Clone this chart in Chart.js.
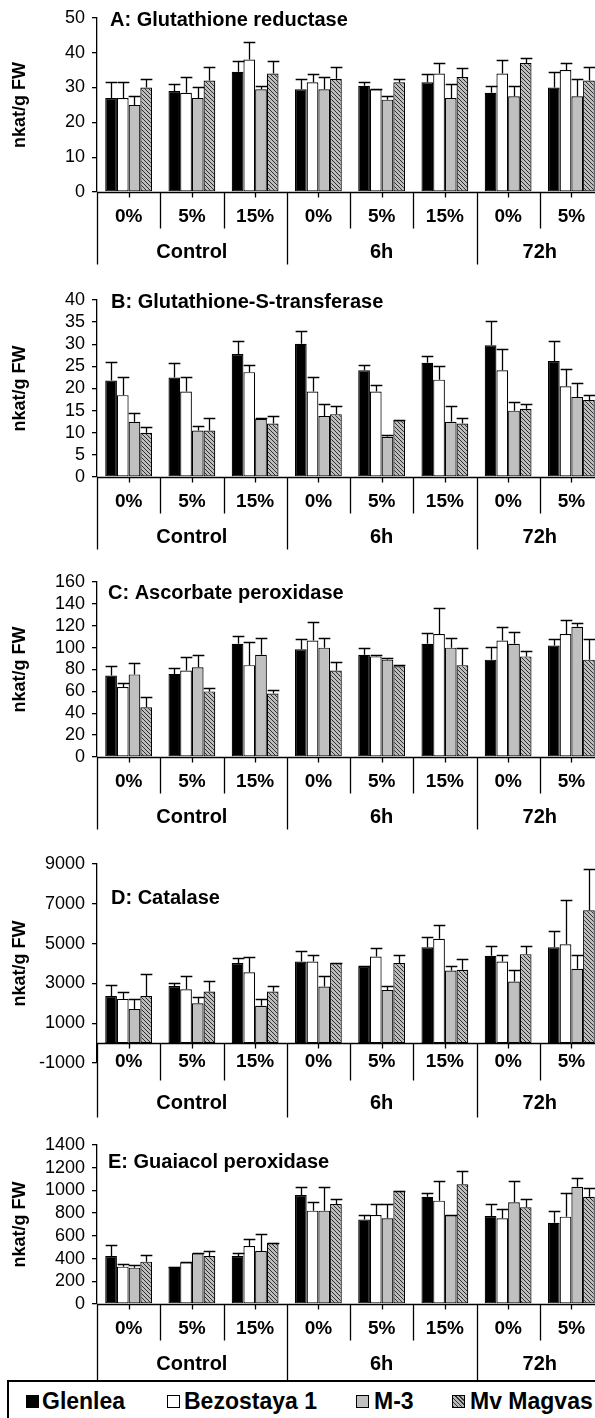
<!DOCTYPE html>
<html lang="en">
<head>
<meta charset="UTF-8">
<title>Antioxidant enzyme activities</title>
<script src="https://cdn.jsdelivr.net/npm/chart.js@4.4.1/dist/chart.umd.min.js"></script>
<style>
  html, body { margin: 0; padding: 0; background: #fff; }
  body { width: 595px; height: 1418px; overflow: hidden; position: relative;
         font-family: Arial, "Liberation Sans", sans-serif; }
  .panel { position: absolute; left: 0; width: 604px; }
  #legendBox { position: absolute; left: 7px; top: 1380px; width: 640px; height: 80px;
               border: 2px solid #000; box-sizing: border-box; }
  .item { position: absolute; top: 1388px; font: bold 23px Arial, "Liberation Sans", sans-serif;
          line-height: 26px; white-space: nowrap; color: #000; }
  .sw { position: absolute; top: 7px; width: 11px; height: 11px; border: 1px solid #000; }
</style>
</head>
<body>
<div class="panel" style="top:0;height:280px"><canvas id="chartA"></canvas></div>
<div class="panel" style="top:280px;height:280px"><canvas id="chartB"></canvas></div>
<div class="panel" style="top:560px;height:280px"><canvas id="chartC"></canvas></div>
<div class="panel" style="top:840px;height:280px"><canvas id="chartD"></canvas></div>
<div class="panel" style="top:1120px;height:260px"><canvas id="chartE"></canvas></div>

<div id="legendBox"></div>
<div class="item" style="left:42px"><span class="sw" style="left:-16px;background:#000"></span>Glenlea</div>
<div class="item" style="left:184px"><span class="sw" style="left:-17px;background:#fff"></span>Bezostaya 1</div>
<div class="item" style="left:374px"><span class="sw" style="left:-18px;background:#c0c0c0"></span>M-3</div>
<div class="item" style="left:470px"><span class="sw" style="left:-18px;background:repeating-linear-gradient(45deg,#333 0 1px,#b8b8b8 1px 3px)"></span>Mv Magvas</div>

<script>
// categories
const subLabels = ['0%', '5%', '15%', '0%', '5%', '15%', '0%', '5%'];
const groupLabels = ['Control', '6h', '72h'];
const groupSizes = [3, 3, 2];
const seriesNames = ['Glenlea', 'Bezostaya 1', 'M-3', 'Mv Magvas'];

// A: Glutathione reductase (rows = Glenlea, Bezostaya 1, M-3, Mv Magvas)
const grMeans = [
  [27, 29, 34.5, 29.5, 30.5, 31.5, 28.5, 30],
  [27, 28.5, 38, 31.5, 29.5, 34, 34, 35],
  [25, 27, 29.5, 29.5, 26.5, 27, 27.5, 27.5],
  [30, 32, 34, 32.5, 31.5, 33, 37, 32]
];
const grErrors = [
  [4.5, 2, 3, 3, 1, 2.5, 2, 4.5],
  [4.5, 4.5, 5, 2.5, 0, 3, 4, 2],
  [2.5, 3, 1, 3.5, 1, 4, 3, 5],
  [2.5, 4, 3.5, 3.5, 1, 2.5, 1.5, 4]
];

// B: Glutathione-S-transferase
const gstMeans = [
  [21.8, 22.5, 27.8, 30.1, 24.1, 25.8, 29.8, 26.2],
  [18.5, 19.3, 23.7, 19.3, 19.3, 22.0, 24.1, 20.5],
  [12.5, 10.5, 13.1, 13.8, 9.1, 12.5, 15.0, 18.1],
  [10.0, 10.5, 12.1, 14.2, 12.8, 12.1, 15.4, 17.4]
];
const gstErrors = [
  [4.2, 3.2, 3.0, 2.8, 1.2, 1.5, 5.5, 4.6],
  [4.0, 3.2, 1.6, 3.2, 1.6, 3.0, 4.8, 4.0],
  [2.0, 1.1, 0.2, 2.7, 0.3, 3.6, 1.9, 3.1],
  [1.3, 2.8, 1.6, 1.9, 0.1, 1.2, 1.1, 1.1]
];

// C: Ascorbate peroxidase
const apxMeans = [
  [74.5, 76, 103.5, 98.5, 93.5, 103.5, 89, 102],
  [64, 79, 84, 106.5, 92, 112.5, 106.5, 112.5],
  [75.5, 82, 93.5, 100, 89, 100, 103.5, 119],
  [45.5, 60, 58, 79, 83, 84, 92, 89]
];
const apxErrors = [
  [8.5, 5.5, 7.5, 9, 6, 10, 12, 5.5],
  [3.5, 12.5, 21, 17, 1, 24, 12.5, 13],
  [10, 11.5, 15.5, 9, 1.5, 9, 11, 3.5],
  [9.5, 3, 3.5, 8, 1, 15.5, 5, 18.5]
];

// D: Catalase
const catMeans = [
  [2370, 2870, 4020, 4100, 3850, 4820, 4390, 4820],
  [2220, 2700, 3560, 4100, 4350, 5240, 4100, 4970],
  [1710, 2000, 1880, 2840, 2670, 3650, 3090, 3730],
  [2370, 2590, 2590, 4020, 4020, 3680, 4470, 6670]
];
const catErrors = [
  [550, 170, 250, 540, 0, 500, 500, 790],
  [370, 670, 790, 340, 450, 700, 340, 2200],
  [500, 340, 340, 540, 200, 200, 560, 700],
  [1090, 540, 290, 0, 420, 540, 420, 2100]
];

// E: Guaiacol peroxidase
const poxMeans = [
  [423, 329, 423, 960, 745, 945, 775, 716],
  [329, 367, 511, 822, 784, 910, 754, 769],
  [320, 446, 467, 822, 754, 784, 895, 1033],
  [373, 423, 540, 880, 998, 1054, 851, 945]
];
const poxErrors = [
  [100, 0, 30, 73, 40, 30, 105, 106],
  [23, 0, 60, 80, 96, 173, 80, 205],
  [23, 0, 146, 211, 126, 0, 188, 80],
  [58, 44, 0, 45, 0, 117, 74, 73]
];

const FONT = 'Arial, "Liberation Sans", sans-serif';

// hatched fill for Mv Magvas
function hatch() {
  const c = document.createElement('canvas');
  c.width = 4; c.height = 4;
  const g = c.getContext('2d');
  g.fillStyle = '#bdbdbd';
  g.fillRect(0, 0, 4, 4);
  g.strokeStyle = '#2e2e2e';
  g.lineWidth = 1;
  g.beginPath();
  g.moveTo(0, 0); g.lineTo(4, 4);
  g.moveTo(-1, 3); g.lineTo(1, 5);
  g.moveTo(3, -1); g.lineTo(5, 1);
  g.stroke();
  return g.createPattern(c, 'repeat');
}
const fills = ['#000000', '#ffffff', '#c0c0c0', hatch()];

// one-sided (upper) error bars with caps
const errorBars = {
  id: 'errorBars',
  afterDatasetsDraw(chart, args, opts) {
    const ctx = chart.ctx, ys = chart.scales.y;
    ctx.save();
    ctx.strokeStyle = '#000';
    ctx.lineWidth = 1.3;
    chart.data.datasets.forEach((ds, i) => {
      chart.getDatasetMeta(i).data.forEach((bar, j) => {
        const e = opts.errors[i][j];
        if (e == null) return;
        const yTop = Math.round(ys.getPixelForValue(ds.data[j] + e)) + 0.5;
        const x = Math.round(bar.x) + 0.5;
        const half = bar.width / 2;
        ctx.beginPath();
        ctx.moveTo(x, bar.y);
        ctx.lineTo(x, yTop);
        ctx.moveTo(x - half, yTop);
        ctx.lineTo(x + half, yTop);
        ctx.stroke();
      });
    });
    ctx.restore();
  }
};

// Excel-like two level category axis + panel title
const groupAxis = {
  id: 'groupAxis',
  afterDraw(chart, args, o) {
    const ctx = chart.ctx, area = chart.chartArea;
    const xs = chart.scales.x, ys = chart.scales.y;
    const y0 = Math.round(ys.getPixelForValue(0)) + 0.5;
    const c = i => xs.getPixelForValue(i);
    const hw = (c(1) - c(0)) / 2;
    const n = subLabels.length;
    const edges = [0];
    groupSizes.forEach(s => edges.push(edges[edges.length - 1] + s));

    ctx.save();
    ctx.strokeStyle = '#000';
    ctx.lineWidth = 1.3;
    ctx.beginPath();
    ctx.moveTo(area.left, y0);
    ctx.lineTo(area.right, y0);
    for (let i = 0; i < n; i++) {
      const x = Math.round(c(i)) + 0.5;
      ctx.moveTo(x, y0);
      ctx.lineTo(x, y0 + 5);
    }
    for (let i = 0; i <= n; i++) {
      const x = Math.round(c(0) - hw + i * 2 * hw) + 0.5;
      const len = edges.includes(i) ? o.groupLine : o.catLine;
      ctx.moveTo(x, y0);
      ctx.lineTo(x, y0 + len);
    }
    ctx.stroke();

    ctx.fillStyle = '#000';
    ctx.textAlign = 'center';
    ctx.textBaseline = 'middle';
    ctx.font = 'bold 19px ' + FONT;
    subLabels.forEach((t, i) => ctx.fillText(t, c(i), y0 + o.catText));
    ctx.font = 'bold 20px ' + FONT;
    groupLabels.forEach((g, gi) => {
      ctx.fillText(g, (c(edges[gi]) + c(edges[gi + 1] - 1)) / 2, y0 + o.groupText);
    });

    ctx.textAlign = 'left';
    ctx.font = 'bold 20px ' + FONT;
    ctx.fillText(o.title, o.titleX, o.titleY);
    ctx.restore();
  }
};

function makePanel(id, title, means, errors, yMin, yMax, yStep, g) {
  new Chart(document.getElementById(id), {
    type: 'bar',
    data: {
      labels: subLabels,
      datasets: means.map((vals, i) => ({
        label: seriesNames[i],
        data: vals,
        backgroundColor: fills[i],
        borderColor: '#000',
        borderWidth: 1.2,
        borderSkipped: false,
        barPercentage: 1,
        categoryPercentage: 0.74
      }))
    },
    options: {
      animation: false,
      responsive: true,
      maintainAspectRatio: false,
      layout: { padding: { top: g.top, bottom: g.bottom, left: 0, right: 1 } },
      scales: {
        x: { display: false },
        y: {
          min: yMin,
          max: yMax,
          ticks: { stepSize: yStep, autoSkip: false, color: '#000', padding: 7,
                   font: { family: FONT, size: 18 },
                   callback: v => String(v) },
          grid: { drawOnChartArea: false, drawTicks: true, tickLength: 5,
                  color: '#000', lineWidth: 1.3 },
          border: { color: '#000', width: 1.3 },
          title: { display: true, text: 'nkat/g FW', color: '#000',
                   font: { family: FONT, size: 18, weight: 'bold' },
                   padding: { top: 9, bottom: 0 } },
          afterFit(scale) { scale.width = 97; }
        }
      },
      plugins: {
        legend: { display: false },
        tooltip: { enabled: false },
        errorBars: { errors: errors },
        groupAxis: Object.assign({ title: title }, g.axis)
      }
    },
    plugins: [errorBars, groupAxis]
  });
}

const stdAxis = { catText: 24, groupText: 60, catLine: 36, groupLine: 72 };

makePanel('chartA', 'A: Glutathione reductase', grMeans, grErrors, 0, 50, 10,
  { top: 17, bottom: 88, axis: Object.assign({ titleX: 110, titleY: 20 }, stdAxis) });
makePanel('chartB', 'B: Glutathione-S-transferase', gstMeans, gstErrors, 0, 40, 5,
  { top: 20, bottom: 83, axis: Object.assign({ titleX: 111, titleY: 22 }, stdAxis) });
makePanel('chartC', 'C: Ascorbate peroxidase', apxMeans, apxErrors, 0, 160, 20,
  { top: 22, bottom: 83, axis: Object.assign({ titleX: 108, titleY: 33 }, stdAxis) });
makePanel('chartD', 'D: Catalase', catMeans, catErrors, -1000, 9000, 2000,
  { top: 24, bottom: 57, axis: { titleX: 111, titleY: 58, catText: 18, groupText: 60, catLine: 37, groupLine: 74 } });
makePanel('chartE', 'E: Guaiacol peroxidase', poxMeans, poxErrors, 0, 1400, 200,
  { top: 25, bottom: 76, axis: { titleX: 108, titleY: 42, catText: 24, groupText: 60, catLine: 36, groupLine: 80 } });
</script>
</body>
</html>
